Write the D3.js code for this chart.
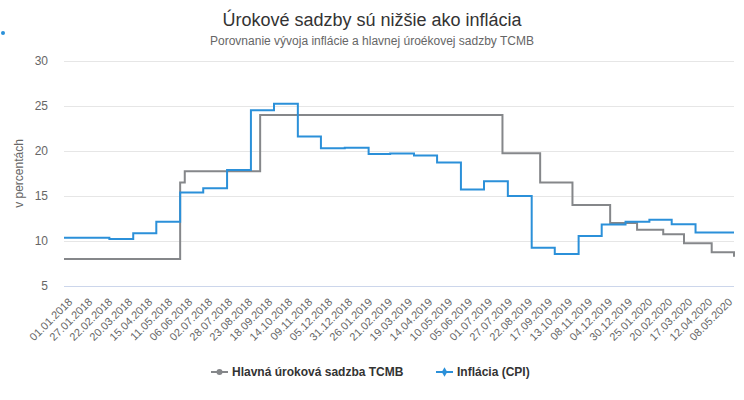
<!DOCTYPE html>
<html>
<head>
<meta charset="utf-8">
<script src="https://cdn.jsdelivr.net/npm/d3@7"></script>
<style>
  body { margin: 0; background: #fff; }
  svg { display: block; font-family: "Liberation Sans", Arial, sans-serif; }
</style>
</head>
<body>
<svg id="chart" width="744" height="400"></svg>
<script>
// ---- data ----
const tickLabels = ["01.01.2018","27.01.2018","22.02.2018","20.03.2018","15.04.2018","11.05.2018",
  "06.06.2018","02.07.2018","28.07.2018","23.08.2018","18.09.2018","14.10.2018","09.11.2018",
  "05.12.2018","31.12.2018","26.01.2019","21.02.2019","19.03.2019","14.04.2019","10.05.2019",
  "05.06.2019","01.07.2019","27.07.2019","22.08.2019","17.09.2019","13.10.2019","08.11.2019",
  "04.12.2019","30.12.2019","25.01.2020","20.02.2020","17.03.2020","12.04.2020","08.05.2020"];

// policy rate (TCMB) — date of change, new value
const rateDates = ["2018-01-01","2018-06-01","2018-06-07","2018-09-13","2019-07-25","2019-09-12",
  "2019-10-24","2019-12-12","2020-01-16","2020-02-19","2020-03-17","2020-04-22","2020-05-21"];
const rateValues = [8.0, 16.5, 17.75, 24.0, 19.75, 16.5, 14.0, 12.0, 11.25, 10.75, 9.75, 8.75, 8.25];

// CPI — month, annual inflation
const cpiDates = ["2018-01-01","2018-02-01","2018-03-01","2018-04-01","2018-05-01","2018-06-01",
  "2018-07-01","2018-08-01","2018-09-01","2018-10-01","2018-11-01","2018-12-01",
  "2019-01-01","2019-02-01","2019-03-01","2019-04-01","2019-05-01","2019-06-01",
  "2019-07-01","2019-08-01","2019-09-01","2019-10-01","2019-11-01","2019-12-01",
  "2020-01-01","2020-02-01","2020-03-01","2020-04-01"];
const cpiValues = [10.35, 10.35, 10.23, 10.85, 12.15, 15.39, 15.85, 17.90, 24.52, 25.24, 21.62, 20.30,
  20.35, 19.67, 19.71, 19.50, 18.71, 15.72, 16.65, 15.01, 9.26, 8.55, 10.56, 11.84,
  12.15, 12.37, 11.86, 10.94];

const endDate = "2020-05-21";
const yTicks = [5, 10, 15, 20, 25, 30];

// ---- layout ----
const margin = { left: 64, right: 10, top: 61, bottom: 114 };
const W = 744, H = 400;
const parseIso = d3.utcParse("%Y-%m-%d");
const parseTick = d3.utcParse("%d.%m.%Y");

const x = d3.scaleUtc()
  .domain([parseIso("2018-01-01"), parseIso(endDate)])
  .range([margin.left, W - margin.right]);
const y = d3.scaleLinear().domain([5, 30]).range([H - margin.bottom, margin.top]);

const svg = d3.select("#chart");

// title
svg.append("text").attr("x", 372).attr("y", 26).attr("text-anchor", "middle")
  .attr("font-size", 18).attr("fill", "#333")
  .text("Úrokové sadzby sú nižšie ako inflácia");
svg.append("text").attr("x", 372).attr("y", 45).attr("text-anchor", "middle")
  .attr("font-size", 12).attr("fill", "#666")
  .text("Porovnanie vývoja inflácie a hlavnej úroékovej sadzby TCMB");
svg.append("circle").attr("cx", 3).attr("cy", 33).attr("r", 2).attr("fill", "#2b90d9");

// grid + y axis
const yAxis = svg.append("g").attr("transform", `translate(${margin.left},0)`)
  .call(d3.axisLeft(y).tickValues(yTicks).tickSize(-(W - margin.left - margin.right)).tickPadding(16));
yAxis.select(".domain").remove();
yAxis.selectAll(".tick line").attr("stroke", d => d === 5 ? "#ccd6eb" : "#e6e6e6");
yAxis.selectAll(".tick text").attr("font-size", 12).attr("fill", "#666")
  .attr("font-family", "Liberation Sans, Arial, sans-serif");

svg.append("text")
  .attr("transform", `translate(23,${(margin.top + H - margin.bottom) / 2}) rotate(-90)`)
  .attr("text-anchor", "middle").attr("font-size", 12).attr("fill", "#666")
  .text("v percentách");

// x axis
const xAxis = svg.append("g").attr("transform", `translate(0,${H - margin.bottom})`)
  .call(d3.axisBottom(x).tickValues(tickLabels.map(parseTick)).tickSize(0).tickFormat(d3.utcFormat("%d.%m.%Y")));
xAxis.select(".domain").remove();
xAxis.selectAll(".tick text")
  .attr("font-size", 11).attr("fill", "#666")
  .attr("font-family", "Liberation Sans, Arial, sans-serif")
  .attr("text-anchor", "end")
  .attr("transform", "translate(3,11) rotate(-45)")
  .attr("dy", "0.35em").attr("y", 4).attr("x", 0);

// lines
const line = d3.line().x(d => x(d[0])).y(d => y(d[1])).curve(d3.curveStepAfter);
function steps(dates, values) {
  const pts = dates.map((d, i) => [parseIso(d), values[i]]);
  pts.push([parseIso(endDate), values[values.length - 1]]);
  return pts;
}
svg.append("path").datum(steps(rateDates, rateValues))
  .attr("d", line).attr("fill", "none").attr("stroke", "#85878a").attr("stroke-width", 2);
svg.append("path").datum(steps(cpiDates, cpiValues))
  .attr("d", line).attr("fill", "none").attr("stroke", "#2b90d9").attr("stroke-width", 2);

// legend
const legend = [
  { name: "Hlavná úroková sadzba TCMB", color: "#85878a", sym: "circle", x: 211 },
  { name: "Inflácia (CPI)", color: "#2b90d9", sym: "diamond", x: 436 }
];
const lg = svg.append("g").attr("transform", "translate(0,372)");
legend.forEach(l => {
  const g = lg.append("g").attr("transform", `translate(${l.x},0)`);
  g.append("line").attr("x1", 0).attr("x2", 17).attr("stroke", l.color).attr("stroke-width", 2);
  g.append("path").attr("transform", "translate(8.5,0)")
    .attr("d", d3.symbol(l.sym === "circle" ? d3.symbolCircle : d3.symbolDiamond, l.sym === "circle" ? 28 : 26)())
    .attr("fill", l.color);
  g.append("text").attr("x", 21).attr("dy", "0.35em").attr("font-size", 12)
    .attr("font-weight", "bold").attr("fill", "#333").text(l.name);
});
</script>
</body>
</html>
